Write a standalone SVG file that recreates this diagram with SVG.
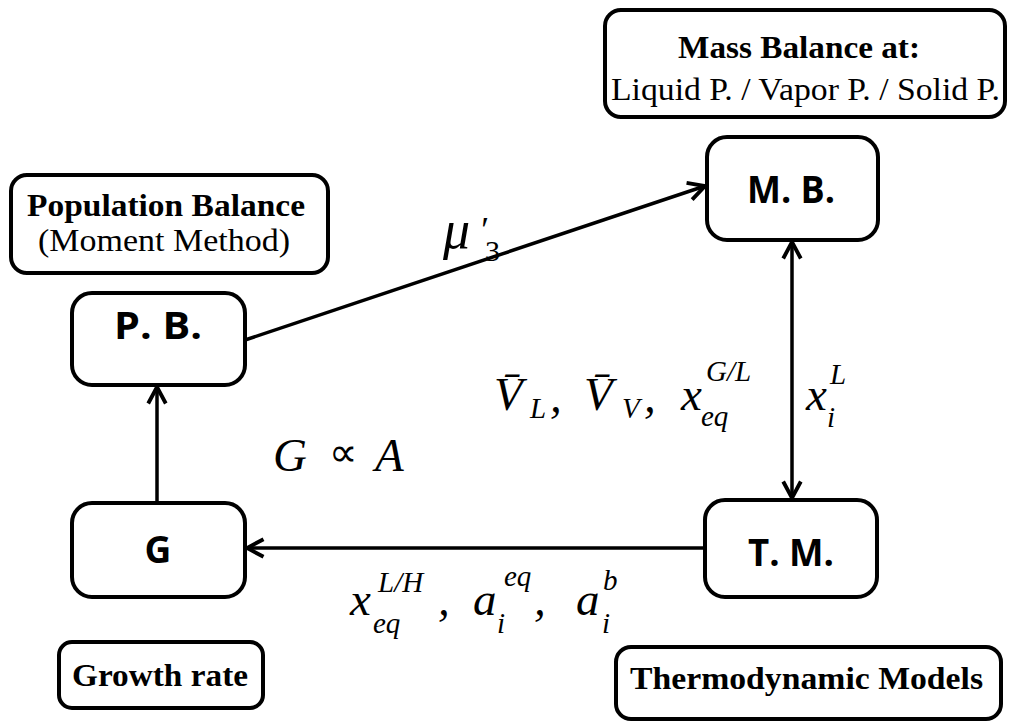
<svg xmlns="http://www.w3.org/2000/svg" width="1010" height="722" viewBox="0 0 1010 722">
<style>
.box{fill:#fff;stroke:#000;stroke-width:4}
.node{font-family:"Open Sans","Liberation Sans",Arial,sans-serif;font-weight:bold;font-size:37px;fill:#000}
.lbl{font-family:"Liberation Serif","Times New Roman",Times,Tinos,serif;font-size:31px;fill:#000}
.b{font-weight:bold}
.m{font-family:"Liberation Serif","Times New Roman",Times,Tinos,serif;font-style:italic;font-size:47px;fill:#000}
.s{font-family:"Liberation Serif","Times New Roman",Times,Tinos,serif;font-style:italic;font-size:29px;fill:#000}
.conn{stroke:#000;stroke-width:3.5;fill:none}
</style>
<defs>
<marker id="ah" viewBox="0 0 20 20" refX="18" refY="10" markerWidth="22" markerHeight="22" markerUnits="userSpaceOnUse" orient="auto-start-reverse">
<path d="M3,2 L18,10 L3,18" fill="none" stroke="#000" stroke-width="3.5" stroke-linejoin="miter"/>
</marker>
</defs>
<rect width="1010" height="722" fill="#fff"/>

<g id="connectors">
<line class="conn" x1="245" y1="340" x2="705" y2="186" marker-end="url(#ah)"/>
<line class="conn" x1="792" y1="242" x2="792" y2="498" marker-start="url(#ah)" marker-end="url(#ah)"/>
<line class="conn" x1="705" y1="548" x2="247" y2="548" marker-end="url(#ah)"/>
<line class="conn" x1="157" y1="503" x2="157" y2="387" marker-end="url(#ah)"/>
</g>

<g id="mass-balance-label">
<rect class="box" x="605" y="10" width="400" height="107" rx="16"/>
<text class="lbl b" x="678" y="58" textLength="242" lengthAdjust="spacingAndGlyphs">Mass Balance at:</text>
<text class="lbl" x="611" y="100" textLength="389" lengthAdjust="spacingAndGlyphs">Liquid P. / Vapor P. / Solid P.</text>
</g>

<g id="population-balance-label">
<rect class="box" x="11" y="175" width="317" height="98" rx="16"/>
<text class="lbl b" x="27" y="216" textLength="278" lengthAdjust="spacingAndGlyphs">Population Balance</text>
<text class="lbl" x="38" y="251" textLength="252" lengthAdjust="spacingAndGlyphs">(Moment Method)</text>
</g>

<g id="growth-rate-label">
<rect class="box" x="59" y="642" width="204" height="66" rx="13"/>
<text class="lbl b" x="72" y="686" textLength="176" lengthAdjust="spacingAndGlyphs">Growth rate</text>
</g>

<g id="thermo-label">
<rect class="box" x="616" y="647" width="385" height="72" rx="15"/>
<text class="lbl b" x="630" y="689" textLength="353" lengthAdjust="spacingAndGlyphs">Thermodynamic Models</text>
</g>

<g id="MB">
<rect class="box" x="707" y="137" width="171" height="103" rx="20"/>
<text class="node" x="747" y="203" textLength="88" lengthAdjust="spacingAndGlyphs">M. B.</text>
</g>

<g id="PB">
<rect class="box" x="72" y="293" width="173" height="92" rx="20"/>
<text class="node" x="114" y="339" textLength="88" lengthAdjust="spacingAndGlyphs">P. B.</text>
</g>

<g id="G">
<rect class="box" x="72" y="503" width="173" height="94" rx="20"/>
<text class="node" x="158" y="563" text-anchor="middle">G</text>
</g>

<g id="TM">
<rect class="box" x="705" y="500" width="172" height="97" rx="20"/>
<text class="node" x="748" y="566" textLength="86" lengthAdjust="spacingAndGlyphs">T. M.</text>
</g>

<g id="labels">
<text class="m" x="443" y="248" style="font-size:54px">μ</text>
<text class="s" x="479" y="242" style="font-size:36px">′</text>
<text class="lbl" x="485" y="261" style="font-size:30px">3</text>

<text class="m" x="494" y="410">V̄</text>
<text class="s" x="530" y="418">L</text>
<text class="m" x="550" y="412">,</text>
<text class="m" x="584" y="410">V̄</text>
<text class="s" x="622" y="418">V</text>
<text class="m" x="644" y="412">,</text>
<text class="m" x="681" y="410">x</text>
<text class="s" x="706" y="381">G/L</text>
<text class="s" x="701" y="426">eq</text>

<text class="m" x="806" y="410">x</text>
<text class="s" x="830" y="384">L</text>
<text class="s" x="827" y="427">i</text>

<text class="m" x="273" y="471">G</text>
<text x="329" y="466" font-family="DejaVu Sans,sans-serif" font-size="40" fill="#000">∝</text>
<text class="m" x="375" y="471">A</text>

<text class="m" x="350" y="615">x</text>
<text class="s" x="378" y="592">L/H</text>
<text class="s" x="373" y="633">eq</text>
<text class="m" x="438" y="615">,</text>
<text class="m" x="473" y="615">a</text>
<text class="s" x="504" y="586">eq</text>
<text class="s" x="497" y="633">i</text>
<text class="m" x="534" y="615">,</text>
<text class="m" x="576" y="615">a</text>
<text class="s" x="603" y="590">b</text>
<text class="s" x="602" y="633">i</text>
</g>
</svg>
